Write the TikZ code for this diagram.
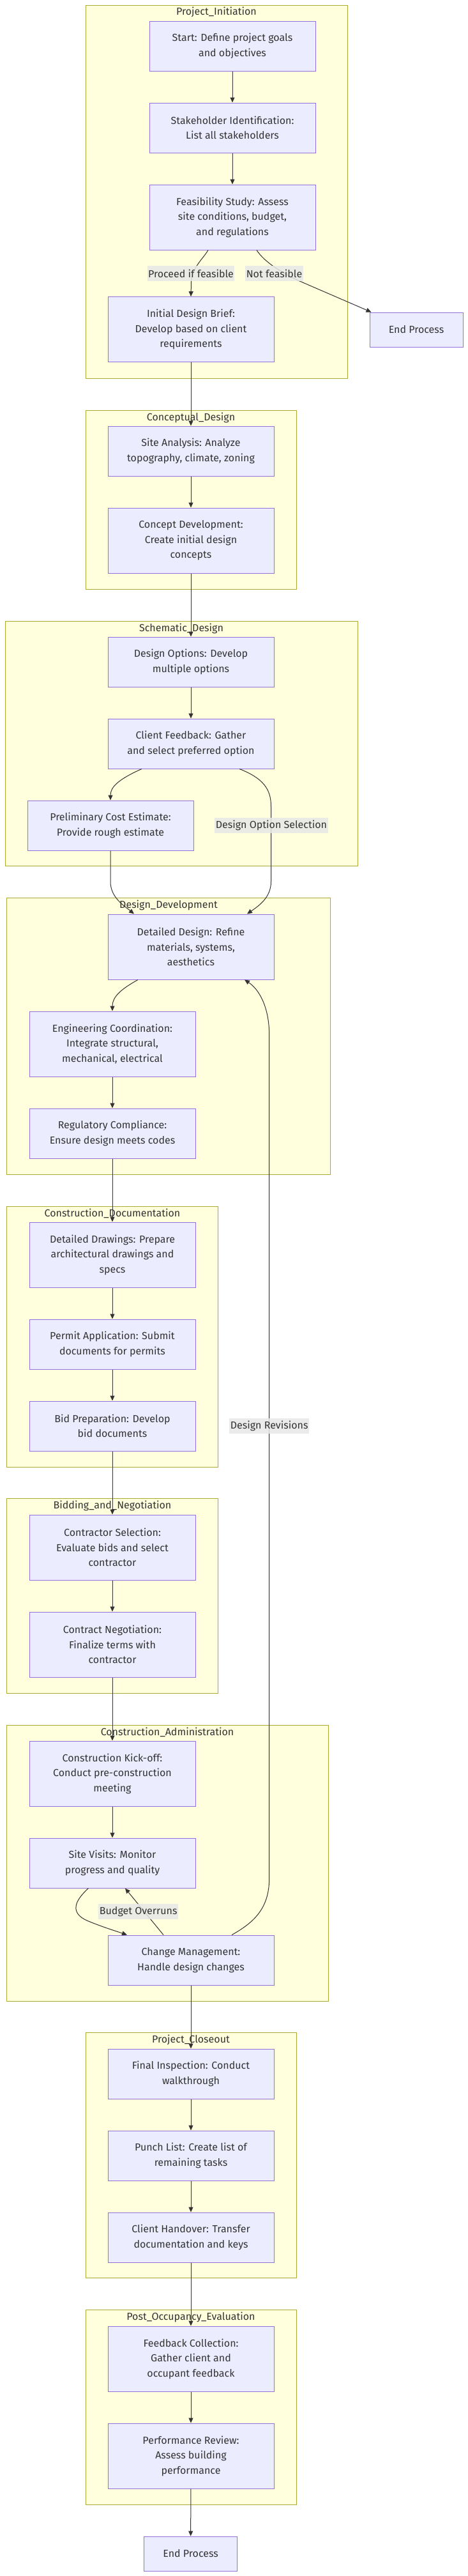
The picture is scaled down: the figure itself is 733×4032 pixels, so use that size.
\documentclass[tikz,border=0pt]{standalone}
\usepackage{fontspec}
\setmainfont{Fira Sans}
\usetikzlibrary{calc,arrows.meta}
\definecolor{clfill}{HTML}{FFFFDE}
\definecolor{clstroke}{HTML}{AAAA33}
\definecolor{ndfill}{HTML}{ECECFF}
\definecolor{ndstroke}{HTML}{9370DB}
\definecolor{edgec}{HTML}{333333}
\definecolor{txtc}{HTML}{333333}
\definecolor{lblbg}{HTML}{E8E8E8}
\tikzset{
  box/.style={rectangle, draw=ndstroke, fill=ndfill, line width=1pt, minimum width=260pt, inner sep=0pt, align=center, text=txtc, font=\fontsize{16}{23.5}\selectfont},
  endbox/.style={box, minimum width=146pt, minimum height=54pt},
  h2/.style={minimum height=78pt},
  h3/.style={minimum height=102pt},
  cluster/.style={draw=clstroke, fill=clfill, line width=1pt},
  ctitle/.style={text=txtc, font=\fontsize{16}{19}\selectfont, inner sep=0pt},
  edge/.style={draw=edgec, line width=1pt, -{Triangle[length=8pt,width=7pt]}},
  elabel/.style={fill=lblbg, fill opacity=0.85, text opacity=1, text=txtc, font=\fontsize{16}{19}\selectfont, inner xsep=1.5pt, inner ysep=0pt, minimum height=24pt}
}
\begin{document}
\begin{tikzpicture}[x=1pt,y=-1pt]
\useasboundingbox (0,0) rectangle (733,4032);
% clusters
\draw[cluster] (134,8) rectangle (544,592);
\node[ctitle] (t1) at (339,19) {Project\_Initiation};
\draw[cluster] (134,642) rectangle (464,922);
\node[ctitle] (t2) at (299,653.5) {Conceptual\_Design};
\draw[cluster] (8,972) rectangle (560.5,1355.6);
\node[ctitle] (t3) at (284,983.5) {Schematic\_Design};
\draw[cluster] (10.75,1405.7) rectangle (517.5,1838.3);
\node[ctitle] (t4) at (264,1417.3) {Design\_Development};
\draw[cluster] (10.75,1888) rectangle (341.3,2296);
\node[ctitle] (t5) at (176,1899) {Construction\_Documentation};
\draw[cluster] (10.75,2345.7) rectangle (341.3,2650);
\node[ctitle] (t6) at (176,2357.3) {Bidding\_and\_Negotiation};
\draw[cluster] (10.75,2700) rectangle (514.3,3132);
\node[ctitle] (t7) at (262,2711) {Construction\_Administration};
\draw[cluster] (134,3181.7) rectangle (464,3565.7);
\node[ctitle] (t8) at (299,3193) {Project\_Closeout};
\draw[cluster] (134,3615.6) rectangle (464,3920.4);
\node[ctitle] (t9) at (299,3627.3) {Post\_Occupancy\_Evaluation};
% nodes
\node[box,h2] (start) at (364,72) {Start: Define project goals\\and objectives};
\node[box,h2] (stake) at (364,200) {Stakeholder Identification:\\List all stakeholders};
\node[box,h3] (feas) at (364,340) {Feasibility Study: Assess\\site conditions, budget,\\and regulations};
\node[box,h3] (brief) at (299,515.6) {Initial Design Brief:\\Develop based on client\\requirements};
\node[endbox] (endA) at (652,516) {End Process};
\node[box,h2] (site) at (299,706) {Site Analysis: Analyze\\topography, climate, zoning};
\node[box,h3] (concept) at (299,846) {Concept Development:\\Create initial design\\concepts};
\node[box,h2] (options) at (299,1036) {Design Options: Develop\\multiple options};
\node[box,h2] (feedback) at (299,1164) {Client Feedback: Gather\\and select preferred option};
\node[box,h2] (prelim) at (173,1292) {Preliminary Cost Estimate:\\Provide rough estimate};
\node[box,h3] (detailed) at (299,1482) {Detailed Design: Refine\\materials, systems,\\aesthetics};
\node[box,h3] (eng) at (176,1634) {Engineering Coordination:\\Integrate structural,\\mechanical, electrical};
\node[box,h2] (reg) at (176,1774) {Regulatory Compliance:\\Ensure design meets codes};
\node[box,h3] (drawings) at (176,1964) {Detailed Drawings: Prepare\\architectural drawings and\\specs};
\node[box,h2] (permit) at (176,2104) {Permit Application: Submit\\documents for permits};
\node[box,h2] (bid) at (176,2232) {Bid Preparation: Develop\\bid documents};
\node[box,h3] (contractor) at (176,2422) {Contractor Selection:\\Evaluate bids and select\\contractor};
\node[box,h3] (negotiation) at (176,2574) {Contract Negotiation:\\Finalize terms with\\contractor};
\node[box,h3] (kickoff) at (176,2776) {Construction Kick-off:\\Conduct pre-construction\\meeting};
\node[box,h2] (visits) at (176,2916) {Site Visits: Monitor\\progress and quality};
\node[box,h2] (change) at (299,3068) {Change Management:\\Handle design changes};
\node[box,h2] (final) at (299,3246) {Final Inspection: Conduct\\walkthrough};
\node[box,h2] (punch) at (299,3374) {Punch List: Create list of\\remaining tasks};
\node[box,h2] (handover) at (299,3502) {Client Handover: Transfer\\documentation and keys};
\node[box,h3] (fbc) at (299,3692) {Feedback Collection:\\Gather client and\\occupant feedback};
\node[box,h3] (perf) at (299,3844) {Performance Review:\\Assess building\\performance};
\node[endbox] (endB) at (298.6,3997) {End Process};
% edges
\draw[edge] (start) -- (stake);
\draw[edge] (stake) -- (feas);
\draw[edge] ($(feas.south)+(-38,0)$) .. controls (318,405) and (300,420) .. (299.5,441) -- (brief.north);
\draw[edge] ($(feas.south)+(38,0)$) .. controls (414,410) and (440,426) .. (467,439) -- ($(endA.north west)+(3,0)$);
\draw[edge] (brief) -- (site);
\draw[edge] (site) -- (concept);
\draw[edge] (concept) -- (options);
\draw[edge] (options) -- (feedback);
\draw[edge] ($(feedback.south)+(-77,0)$) .. controls (185,1220) and (173,1232) .. (prelim.north);
\draw[edge] ($(feedback.south)+(76,0)$) .. controls (412,1218) and (424.5,1235) .. (424.5,1262) -- (424.5,1380) .. controls (424.5,1405) and (405,1418) .. ($(detailed.north)+(88,0)$);
\draw[edge] (prelim.south) -- (173,1380) .. controls (173,1405) and (195,1418) .. ($(detailed.north)+(-89,0)$);
\draw[edge] ($(detailed.south)+(-83,0)$) .. controls (190,1548) and (176,1560) .. (eng.north);
\draw[edge] (eng) -- (reg);
\draw[edge] (reg) -- (drawings);
\draw[edge] (drawings) -- (permit);
\draw[edge] (permit) -- (bid);
\draw[edge] (bid) -- (contractor);
\draw[edge] (contractor) -- (negotiation);
\draw[edge] (negotiation) -- (kickoff);
\draw[edge] (kickoff) -- (visits);
\draw[edge] ($(visits.south)+(-37.6,0)$) .. controls (116,2976) and (110,2994) .. (136,3006) .. controls (160,3016) and (180,3022) .. ($(change.north)+(-100,0)$);
\draw[edge] ($(change.north)+(-43,0)$) -- ($(visits.south)+(20,0)$);
\draw[edge] ($(change.north)+(64,0)$) .. controls (400,3008) and (421.7,2985) .. (421.7,2940) -- (421.7,1620) .. controls (421.7,1575) and (405,1548) .. ($(detailed.south)+(84,0)$);
\draw[edge] (change) -- (final);
\draw[edge] (final) -- (punch);
\draw[edge] (punch) -- (handover);
\draw[edge] (handover) -- (fbc);
\draw[edge] (fbc) -- (perf);
\draw[edge] (perf) -- (endB);
% edge labels
\node[elabel] (l1) at (299,428) {Proceed if feasible};
\node[elabel] (l2) at (429.5,428) {Not feasible};
\node[elabel] (l3) at (425,1292) {Design Option Selection};
\node[elabel] (l4) at (421.7,2232) {Design Revisions};
\node[elabel] (l5) at (216.7,2992) {Budget Overruns};
\end{tikzpicture}
\end{document}
